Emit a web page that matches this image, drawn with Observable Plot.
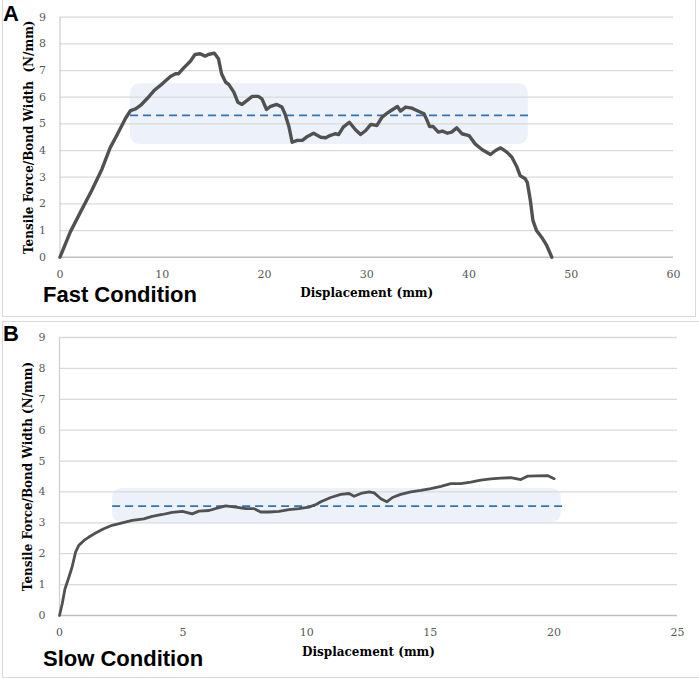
<!DOCTYPE html>
<html>
<head>
<meta charset="utf-8">
<script src="https://cdn.jsdelivr.net/npm/d3@7"></script>
<script src="https://cdn.jsdelivr.net/npm/@observablehq/plot@0.6"></script>
<style>
  body { margin: 0; background: #fff; }
  #wrap { position: relative; width: 699px; height: 679px; overflow: hidden; }
  .box { position: absolute; border: 1.5px solid #dadada; box-sizing: border-box; }
  .panel { position: absolute; left: 0; }
  .tag { position: absolute; font-family: "Liberation Sans", Arial, sans-serif; font-weight: bold; font-size: 22px; line-height: 22px; color: #000; white-space: nowrap; }
  g[aria-label="x-axis label"] text, g[aria-label="y-axis label"] text { font-weight: bold; fill: #000; font-size: 12px; }
</style>
</head>
<body>
<div id="wrap">
  <div class="box" style="left:2px;top:-2px;width:694px;height:319px;"></div>
  <div class="box" style="left:2px;top:321px;width:700px;height:357px;"></div>
  <div id="pa" class="panel" style="top:0px;"></div>
  <div id="pb" class="panel" style="top:321px;"></div>
  <div class="tag" style="left:3px;top:3px;">A</div>
  <div class="tag" style="left:43px;top:284px;">Fast Condition</div>
  <div class="tag" style="left:3px;top:323px;">B</div>
  <div class="tag" style="left:43px;top:648px;">Slow Condition</div>
</div>
<script>
// ---- data ----
const yTicks = [0, 1, 2, 3, 4, 5, 6, 7, 8, 9];
const fastTicks = [0, 10, 20, 30, 40, 50, 60];
const slowTicks = [0, 5, 10, 15, 20, 25];

// [displacement mm, force/width N/mm]
const fastCurve = [
  [0,0],[1.0,0.94],[2.0,1.69],[3.1,2.5],[4.1,3.3],[4.9,4.1],[5.6,4.6],[6.4,5.2],[6.9,5.5],[7.4,5.56],
  [7.9,5.7],[8.5,5.94],[9.2,6.25],[10.0,6.5],[10.8,6.78],[11.3,6.88],[11.6,6.88],[12.1,7.1],[12.75,7.35],[13.2,7.6],
  [13.7,7.63],[14.2,7.54],[14.5,7.6],[15.1,7.65],[15.5,7.44],[15.8,6.88],[16.2,6.56],[16.5,6.48],[17.0,6.19],[17.4,5.81],
  [17.8,5.73],[18.3,5.88],[18.8,6.03],[19.4,6.03],[19.75,5.94],[20.2,5.54],[20.6,5.66],[21.2,5.73],[21.7,5.63],[22.0,5.38],
  [22.4,4.88],[22.7,4.31],[23.2,4.38],[23.7,4.38],[24.2,4.53],[24.8,4.65],[25.5,4.5],[26.0,4.48],[26.4,4.56],[26.9,4.63],
  [27.25,4.6],[27.7,4.88],[28.3,5.06],[28.9,4.78],[29.4,4.6],[29.9,4.75],[30.4,4.98],[31.0,4.94],[31.5,5.25],[32.0,5.4],
  [32.5,5.53],[33.0,5.65],[33.3,5.48],[33.8,5.63],[34.4,5.59],[34.9,5.5],[35.6,5.38],[35.9,5.13],[36.15,4.9],[36.5,4.9],
  [37.0,4.69],[37.4,4.73],[37.9,4.65],[38.3,4.69],[38.8,4.85],[39.3,4.63],[40.0,4.56],[40.6,4.25],[41.3,4.03],[42.1,3.85],
  [42.6,4.0],[43.1,4.1],[43.7,3.94],[44.2,3.75],[44.7,3.37],[45.0,3.06],[45.5,2.94],[45.7,2.81],[46.0,2.13],[46.25,1.38],
  [46.6,1.0],[47.1,0.75],[47.6,0.44],[48.1,0]
];
const slowCurve = [
  [0,0],[0.11,0.38],[0.22,0.86],[0.38,1.24],[0.51,1.57],[0.65,2.05],[0.78,2.27],[0.99,2.43],[1.19,2.54],[1.46,2.67],
  [1.79,2.81],[2.13,2.92],[2.54,3.0],[2.94,3.08],[3.41,3.13],[3.75,3.21],[4.16,3.27],[4.56,3.34],[4.97,3.37],[5.37,3.29],
  [5.64,3.38],[6.05,3.4],[6.45,3.49],[6.72,3.55],[7.13,3.51],[7.53,3.46],[7.87,3.46],[8.14,3.35],[8.47,3.35],[8.88,3.37],
  [9.28,3.43],[9.69,3.46],[10.09,3.51],[10.4,3.6],[10.57,3.68],[10.97,3.82],[11.38,3.92],[11.71,3.95],[11.92,3.86],[12.19,3.95],
  [12.52,4.0],[12.73,3.97],[13.0,3.78],[13.24,3.68],[13.47,3.82],[13.8,3.92],[14.21,4.0],[14.62,4.05],[15.02,4.11],[15.43,4.18],
  [15.83,4.27],[16.23,4.27],[16.64,4.32],[17.04,4.38],[17.45,4.42],[17.85,4.45],[18.26,4.46],[18.66,4.4],[18.93,4.51],[19.34,4.52],
  [19.74,4.53],[20.01,4.43]
];

const fastBandX = [6.9, 45.8];
const fastBandY = [4.23, 6.5];
const fastMean = 5.32;
const fastMeanX = [6.9, 46.3];

const slowBandX = [2.15, 20.3];
const slowBandY = [3.01, 4.11];
const slowMean = 3.54;
const slowMeanX = [2.15, 20.4];

function panel(o) {
  return Plot.plot({
    width: 699,
    height: o.height,
    marginTop: o.marginTop,
    marginBottom: o.marginBottom,
    marginLeft: o.marginLeft,
    marginRight: o.marginRight,
    style: { fontFamily: "DejaVu Serif", fontSize: "11px", color: "#595959", background: "transparent", overflow: "visible" },
    x: { domain: [0, o.xMax] },
    y: { domain: [0, 9] },
    marks: [
      Plot.rect([0], { x1: () => o.bandX[0], x2: () => o.bandX[1], y1: () => o.bandY[0], y2: () => o.bandY[1], fill: "#edf2fa", rx: 9 }),
      Plot.gridY(yTicks.slice(1), { stroke: "#d9d9d9", strokeOpacity: 1, strokeWidth: 1.3 }),
      Plot.ruleX([0], { stroke: "#d0d0d0", strokeWidth: 1.3 }),
      Plot.ruleY([0], { stroke: "#bfbfbf", strokeWidth: 1.6 }),
      Plot.ruleY([o.mean], { x1: () => o.meanX[0], x2: () => o.meanX[1], stroke: "#2e75b6", strokeWidth: 1.8, strokeDasharray: "8,5" }),
      Plot.line(o.curve, { x: d => d[0], y: d => d[1], stroke: "#515151", strokeWidth: o.lineWidth, strokeLinejoin: "round", strokeLinecap: "round" }),
      Plot.axisX(o.xTicks, { tickSize: 0, tickPadding: 13, label: "Displacement (mm)", labelAnchor: "center", labelArrow: "none", labelOffset: 40 }),
      Plot.axisY(yTicks, { tickSize: 0, tickPadding: 14, label: o.ylabel, labelAnchor: "center", labelArrow: "none", labelOffset: 36 })
    ]
  });
}

document.getElementById("pa").append(panel({
  height: 317, marginTop: 16.7, marginBottom: 60.3, marginLeft: 59.5, marginRight: 26,
  xMax: 60, xTicks: fastTicks, curve: fastCurve,
  bandX: fastBandX, bandY: fastBandY, mean: fastMean, meanX: fastMeanX,
  ylabel: "Tensile Force/Bond Width\u00a0 (N/mm)", lineWidth: 3.4
}));

document.getElementById("pb").append(panel({
  height: 357, marginTop: 16, marginBottom: 63, marginLeft: 59, marginRight: 22,
  xMax: 25, xTicks: slowTicks, curve: slowCurve,
  bandX: slowBandX, bandY: slowBandY, mean: slowMean, meanX: slowMeanX,
  ylabel: "Tensile Force/Bond Width (N/mm)", lineWidth: 2.8
}));
</script>
</body>
</html>
